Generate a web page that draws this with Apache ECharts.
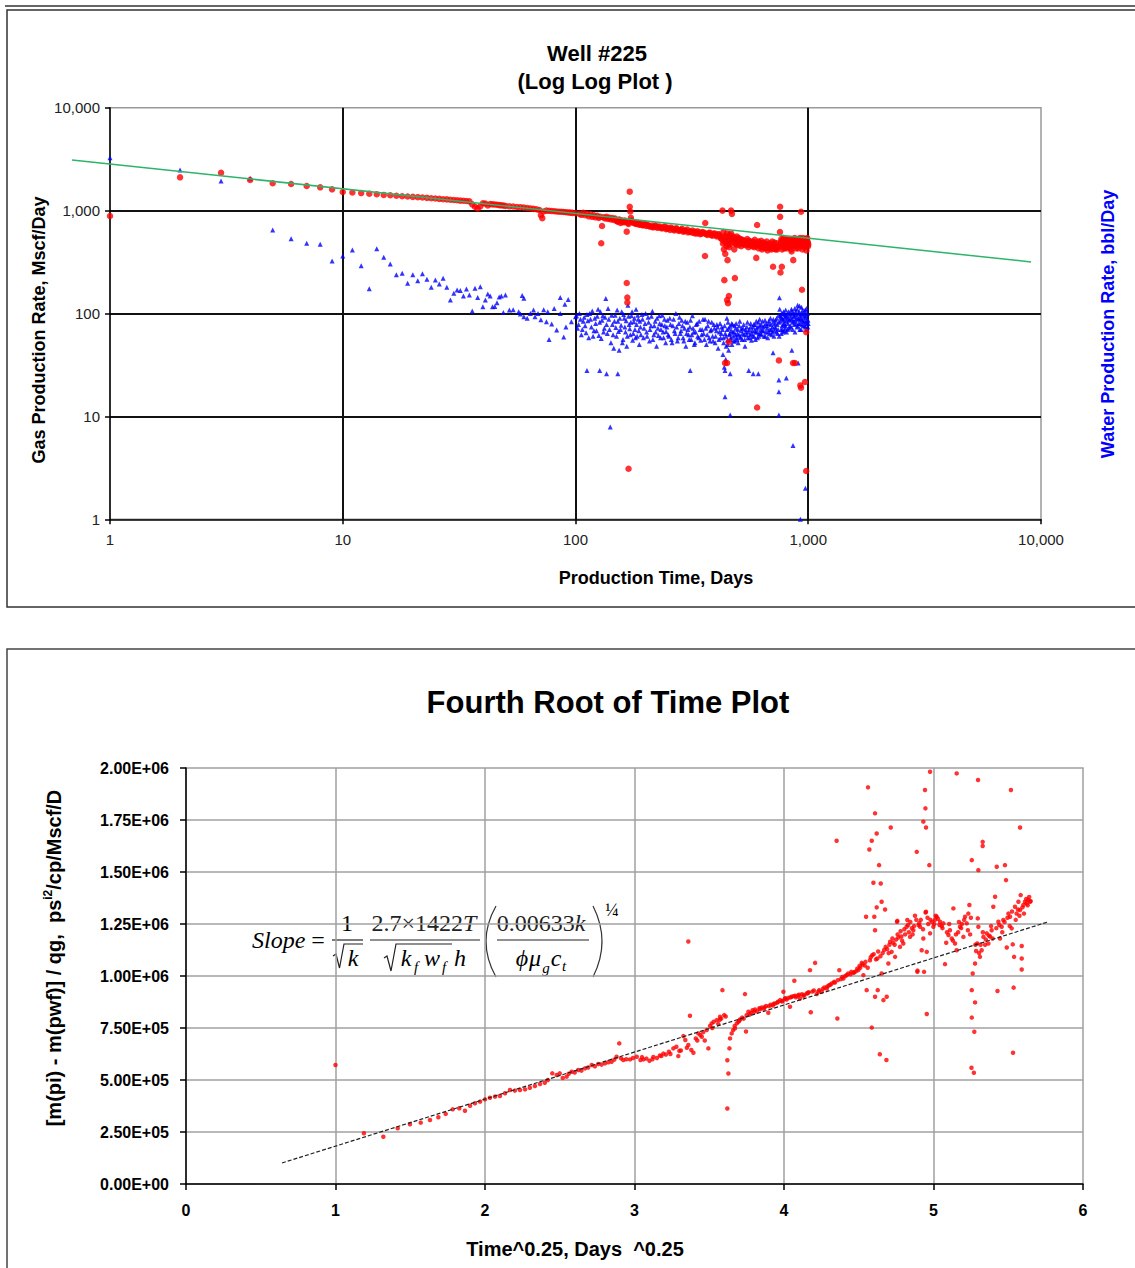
<!DOCTYPE html>
<html>
<head>
<meta charset="utf-8">
<title>Well #225</title>
<script src="https://cdn.jsdelivr.net/npm/echarts@6/dist/echarts.min.js"></script>
<style>
  html, body { margin: 0; padding: 0; background: #fff; }
  #main { width: 1135px; height: 1268px; }
</style>
</head>
<body>
<div id="main"></div>
<script>
// ---- Well #225 log-log data: [day, rate] ----
const gasEarly = [[1,887],[2,2105],[3,2335],[4,1983],[5,1842],[6,1814],[7,1735],[8,1683],[9,1610],[10,1517],[11,1500],[12,1480],[13,1460],[14,1440],[15,1420],[16,1410],[17,1395],[18,1380],[19,1370],[20,1360],[21,1350],[22,1340],[23,1330],[24,1320],[25,1310],[26,1300],[27,1290],[28,1285],[29,1275],[30,1268],[31,1260],[32,1250],[33,1245],[34,1240],[35,1230],[36,1150],[37,1090],[38,1050],[39,1100],[40,1180],[41,1170],[42,1120],[43,1160],[44,1150],[45,1145],[46,1140],[47,1130],[48,1125],[49,1120],[50,1110],[52,1100],[54,1095],[56,1085],[58,1080],[60,1070],[62,1060],[64,1050],[66,1040],[68,1030],[70,1010],[71,900],[72,845],[73,980],[75,1000],[77,995],[79,990],[81,985],[83,980],[85,975],[87,975],[89,970],[91,965],[93,960],[95,955],[97,950],[100,942]]
const gasLate = [[104,930],[106,910],[108,950],[110,900],[112,930],[114,880],[116,920],[118,870],[120,900],[122,860],[124,890],[126,850],[128,870],[132,860],[134,840],[136,870],[138,830],[140,850],[142,820],[144,845],[146,810],[148,835],[150,800],[152,780],[154,820],[156,760],[158,800],[160,790],[162,770],[164,780],[168,760],[172,980],[173,850],[174,800],[176,780],[178,760],[180,770],[183,740],[186,760],[189,730],[192,745],[195,720],[198,735],[201,710],[205,725],[209,700],[213,715],[217,690],[221,705],[225,680],[230,700],[235,670],[240,690],[245,660],[250,680],[255,650],[260,670],[266,640],[272,660],[278,635],[284,650],[290,625],[297,640],[304,615],[311,630],[318,610],[325,625],[332,600],[340,615],[348,595],[356,610],[365,590],[374,605],[383,580],[392,595],[401,575],[410,590],[418,560],[425,530],[430,480],[432,620],[434,420],[438,560],[440,380],[444,500],[448,600],[450,330],[452,470],[455,550],[458,440],[460,580],[463,520],[468,540],[470,930],[472,500],[478,560],[481,420],[487,520],[490,470],[494,560],[498,500],[502,540],[507,490],[512,530],[517,480],[522,520],[527,470],[532,510],[538,460],[544,500],[550,470],[556,510],[562,460],[568,490],[574,450],[580,500],[586,440],[592,480],[606,460],[612,430],[618,490],[624,450],[630,440],[636,480],[642,440],[648,470],[654,430],[660,460],[666,440],[672,470],[680,430],[688,450],[696,420],[712,460],[720,430],[728,440],[736,420],[744,450],[756,620],[762,480],[766,530],[770,450],[775,510],[780,470],[785,540],[790,460],[795,500],[800,440],[805,520],[810,470],[815,500],[820,450],[826,530],[832,460],[838,500],[844,420],[850,520],[856,470],[862,330],[868,490],[874,540],[880,450],[886,500],[892,470],[898,530],[904,460],[910,510],[916,480],[922,540],[928,470],[934,520],[946,490],[950,540],[955,480],[960,520],[965,460],[970,510],[975,450],[980,530],[985,480],[990,540],[995,490],[1000,470]]
const gasCloud = [[151,790],[155,810],[159,770],[163,800],[169,740],[175,770],[181,745],[187,735],[194,720],[200,740],[207,705],[214,690],[220,720],[227,695],[234,680],[242,705],[249,665],[257,685],[264,655],[271,675],[280,645],[287,665],[294,630],[302,655],[310,620],[318,640],[326,600],[334,630],[343,590],[351,620],[360,600],[369,580],[378,610],[387,570],[396,600],[405,560],[414,585],[421,540],[436,500],[442,560],[446,450],[454,510],[461,470],[466,600],[474,540],[485,480],[492,530],[500,460],[509,520],[515,450],[525,500],[535,480],[547,530],[553,440],[565,500],[577,470],[589,520],[595,450],[609,500],[615,470],[627,510],[633,420],[645,490],[651,450],[663,500],[669,410],[684,480],[692,440],[700,500],[708,430],[716,490],[724,420],[732,480],[740,440],[764,500],[772,420],[782,520],[788,430],[798,480],[808,430],[818,510],[828,440],[836,480],[848,400],[858,500],[866,450],[878,520],[888,430],[896,480],[906,430],[914,530],[926,450],[936,500],[944,420],[952,510],[962,440],[972,490],[982,410],[992,500],[998,450]]
const gasOutliers = [[129,482],[130,708],[166,624],[166,198],[167,143],[167,128],[169,3.1],[171,1527],[171,1091],[360,362],[361,758],[428,1000],[436,211],[448,135],[452,126],[456,148],[484,221],[466,1000],[439,33],[448,33],[456,53],[603,12.2],[598,347],[603,724],[706,285],[748,35],[757,1091],[757,870],[760,250],[770,285],[860,33],[877,33],[925,20],[931,19],[931,975],[940,170],[968,21.6],[980,66],[980,2.95]]

const waterEarly = [[1,3265],[2,2483],[3,1940],[4,2060],[5,648],[6,533],[7,481],[8,470],[9,324],[10,362],[11,414],[12,291],[13,174],[14,426],[15,352],[16,303],[17,238],[18,246],[19,197],[20,238],[21,208],[22,244],[23,215],[24,180],[25,212],[26,194],[27,220],[28,180],[29,135],[30,157],[31,169],[32,167],[33,148],[34,173],[35,151],[36,106],[37,176],[38,143],[39,182],[40,116],[41,135],[42,155],[43,148],[44,116],[45,117],[46,127],[47,145],[48,148],[49,102],[50,151],[52,108],[54,109],[57,104],[58,99],[59,150],[60,141],[60,93],[62,90],[64,100],[66,108],[67,93],[69,100],[71,87],[73,109],[75,83],[76,104],[77,56],[79,79],[81,112],[83,69],[86,143],[86,100],[89,59],[90,123],[91,74],[93,137],[96,83],[100,93]]
const waterLate = [[101,95],[103,78],[105,88],[107,70],[109,92],[111,65],[113,85],[115,100],[117,74],[119,60],[121,90],[123,68],[125,110],[127,82],[129,57],[131,95],[133,72],[135,140],[137,64],[139,88],[142,52],[144,78],[146,46],[148,96],[150,60],[152,84],[154,44],[156,70],[158,104],[160,56],[162,90],[164,66],[166,48],[168,120],[170,78],[172,62],[174,95],[176,55],[178,83],[180,70],[182,110],[184,60],[186,88],[188,50],[190,74],[193,98],[196,58],[199,80],[202,66],[205,92],[208,54],[211,76],[214,105],[217,62],[220,84],[223,48],[226,72],[229,95],[232,58],[235,78],[238,66],[241,88],[244,52],[247,74],[250,62],[254,90],[258,56],[262,76],[266,68],[270,100],[274,54],[278,80],[282,64],[286,86],[290,58],[294,72],[298,48],[302,82],[306,62],[310,74],[314,56],[318,95],[322,66],[326,52],[330,78],[335,60],[340,84],[345,55],[350,70],[355,64],[360,88],[365,50],[370,76],[375,58],[380,68],[385,82],[390,54],[395,72],[400,60],[405,78],[410,46],[415,66],[420,58],[425,74],[430,40],[433,52],[436,30],[440,64],[442,36],[444,48],[448,70],[450,55],[452,82],[455,44],[458,62],[461,75],[464,56],[467,68],[470,50],[473,78],[476,60],[480,66],[484,54],[488,72],[492,58],[496,64],[500,52],[505,76],[510,60],[515,68],[520,56],[525,72],[530,62],[535,48],[540,66],[545,74],[550,58],[555,28],[558,70],[562,62],[566,80],[570,55],[575,68],[580,74],[585,60],[590,78],[595,66],[600,72],[605,58],[610,82],[615,64],[620,76],[625,70],[630,62],[636,84],[642,68],[648,76],[654,60],[660,80],[666,72],[672,66],[678,85],[684,70],[690,78],[696,62],[702,74],[708,88],[714,68],[720,80],[726,72],[732,90],[738,64],[748,82],[752,142],[754,110],[760,95],[764,70],[768,100],[772,76],[776,88],[780,66],[784,104],[788,80],[792,92],[796,72],[800,108],[805,84],[810,96],[815,70],[825,88],[830,100],[835,76],[840,90],[850,106],[855,82],[865,94],[870,78],[875,112],[880,86],[885,98],[895,74],[900,120],[905,90],[910,80],[915,104],[920,70],[925,96],[930,88],[935,115],[940,78],[945,100],[950,84],[960,92],[965,76],[970,108],[975,82],[980,96],[985,70],[990,88],[995,74],[1000,80]]
const waterCloud = [[102,72],[104,100],[106,62],[108,84],[110,76],[112,98],[114,58],[116,88],[118,106],[120,68],[122,80],[124,94],[126,61],[128,104],[130,86],[132,66],[134,92],[136,78],[138,112],[140,70],[143,96],[145,62],[147,84],[149,73],[151,108],[153,67],[155,90],[157,77],[159,52],[161,98],[163,74],[165,85],[167,60],[169,94],[171,71],[173,82],[175,104],[177,64],[179,90],[181,58],[183,78],[185,96],[187,68],[189,84],[191,62],[194,88],[197,72],[200,100],[203,60],[206,82],[209,70],[212,94],[215,56],[218,76],[221,66],[224,90],[227,61],[230,80],[233,70],[236,96],[239,58],[242,76],[245,67],[248,86],[252,60],[256,78],[260,52],[264,88],[268,64],[272,74],[276,58],[280,92],[284,68],[288,76],[292,54],[296,84],[300,64],[304,70],[308,56],[312,86],[316,62],[320,72],[324,50],[328,66],[333,80],[338,58],[343,70],[348,62],[353,88],[358,56],[363,72],[368,62],[373,84],[378,54],[383,70],[388,60],[393,78],[398,52],[403,68],[408,74],[413,56],[418,80],[423,64],[428,70],[432,58],[437,76],[443,60],[447,90],[451,50],[456,72],[460,64],[465,58],[469,80],[474,66],[478,54],[482,76],[486,62],[490,80],[494,56],[498,70],[503,62],[508,84],[512,58],[517,72],[522,64],[528,78],[533,56],[538,70],[543,62],[548,82],[553,66],[560,58],[565,74],[572,64],[578,60],[583,78],[588,68],[593,56],[598,84],[603,66],[608,74],[613,60],[618,88],[623,64],[628,78],[634,68],[640,74],[646,60],[652,86],[658,66],[664,76],[670,58],[676,80],[682,64],[688,90],[694,70],[700,66],[706,82],[712,60],[718,74],[724,86],[730,66],[736,78],[742,70],[746,96],[750,60],[758,84],[762,92],[766,64],[770,90],[774,70],[778,100],[782,78],[786,86],[790,68],[794,98],[798,76],[802,94],[807,66],[812,90],[817,80],[822,104],[827,72],[832,86],[837,96],[842,74],[847,110],[852,88],[857,70],[862,100],[867,84],[872,94],[877,66],[882,104],[887,80],[892,90],[897,110],[902,76],[907,100],[912,88],[917,118],[922,80],[927,92],[932,70],[937,100],[942,86],[947,108],[952,76],[957,96],[962,84],[967,104],[972,74],[977,92],[982,112],[987,80],[992,100],[997,86]]
const waterOutliers = [[112,28],[127,28],[136,26],[141,7.9],[152,26],[311,28],[439,28],[439,15.5],[462,26],[462,10.3],[580,26],[610,26],[706,41.5],[748,22.6],[748,17.4],[748,10.3],[805,23.6],[850,44],[860,5.2],[905,33],[972,2.0],[925,1.0]]

const trendLogLog = [[0.687,3100],[9060,317]]

// ---- Fourth root of time data: [t^0.25, dm(p)/q] ----
const rootEarly = [[1.0,572000],[1.19,244000],[1.32,227000],[1.416,268000],[1.498,287000],[1.57,295000],[1.632,308000],[1.688,321000],[1.737,337000],[1.784,359000],[1.828,364000],[1.866,352000],[1.9,376000],[1.933,388000],[1.967,396000],[2.0,407000],[2.033,415000],[2.067,420000],[2.1,423000],[2.134,436000],[2.167,452000],[2.2,449000],[2.234,452000],[2.268,455000],[2.3,463000],[2.334,471000],[2.368,481000],[2.4,487000],[2.42,500000],[2.45,532000],[2.48,524000],[2.5,532000],[2.52,510000],[2.546,516000],[2.56,530000],[2.58,540000],[2.6,536000],[2.624,548000],[2.645,545000],[2.669,556000],[2.69,560000],[2.714,572000],[2.735,566000],[2.758,577000],[2.78,574000],[2.803,580000],[2.825,585000],[2.847,588000],[2.865,598000],[2.88,612000],[2.898,676000],[2.91,604000],[2.925,596000],[2.945,600000],[2.97,599000],[2.99,606000],[3.015,612000]]
const rootBand = [[3.04,596000],[3.06,599000],[3.08,603000],[3.1,592000],[3.126,611000],[3.15,606000],[3.17,618000],[3.193,627000],[3.21,622000],[3.23,636000],[3.26,652000],[3.28,660000],[3.293,615000],[3.31,642000],[3.327,711000],[3.34,692000],[3.36,668000],[3.371,809000],[3.38,644000],[3.394,631000],[3.41,700000],[3.427,724000],[3.44,716000],[3.45,708000],[3.47,690000],[3.483,740000],[3.494,652000],[3.505,760000],[3.516,772000],[3.53,780000],[3.55,788000],[3.56,770000],[3.572,804000],[3.58,795000],[3.60,812000],[3.635,652000],[3.639,700000],[3.65,724000],[3.66,740000],[3.672,748000],[3.684,772000],[3.695,780000],[3.706,791000],[3.72,800000],[3.746,733000],[3.75,812000],[3.762,828000],[3.78,822000],[3.79,835000],[3.806,839000],[3.82,830000],[3.835,845000],[3.851,849000],[3.865,842000],[3.88,856000],[3.895,823000],[3.91,862000],[3.925,858000],[3.94,868000],[3.955,872000],[3.974,884000],[3.985,878000],[4.005,890000],[4.018,887000],[4.03,895000],[4.04,852000],[4.05,900000],[4.063,903000],[4.08,898000],[4.095,906000],[4.107,892000],[4.12,912000],[4.135,908000],[4.152,916000],[4.165,922000],[4.19,925000],[4.219,913000],[4.235,932000],[4.252,924000],[4.27,945000],[4.286,940000],[4.3,955000],[4.319,964000],[4.335,972000],[4.37,1028000],[4.38,985000],[4.397,988000],[4.41,1000000],[4.43,1012000],[4.445,1008000],[4.464,1015000],[4.48,1022000],[4.497,1028000],[4.51,1040000],[4.52,1063000],[4.531,1004000],[4.54,1050000],[4.575,1076000],[4.59,1100000],[4.615,1080000],[4.624,1084000],[4.653,1012000],[4.66,1110000],[4.69,1130000],[4.698,1060000],[4.705,1150000],[4.72,1116000],[4.73,1160000],[4.743,1092000],[4.75,1175000],[4.756,1261000],[4.765,1185000],[4.776,1140000],[4.785,1190000],[4.798,1156000],[4.81,1200000],[4.82,1237000],[4.825,1269000],[4.835,1210000],[4.843,1188000],[4.855,1230000],[4.865,1220000],[4.876,1290000],[4.9,1245000],[4.91,1237000],[4.932,1180000],[4.947,1305000],[4.955,1116000],[4.965,1250000],[4.977,1205000],[4.99,1260000],[4.999,1237000],[5.01,1270000],[5.021,1285000],[5.03,1275000],[5.044,1261000],[5.055,1240000],[5.066,1253000],[5.085,1160000],[5.1,1197000],[5.11,1220000],[5.122,1180000],[5.144,1156000],[5.155,1124000],[5.165,1210000],[5.177,1237000],[5.19,1250000],[5.2,1188000],[5.211,1285000],[5.222,1253000],[5.233,1300000],[5.24,1341000],[5.245,1200000],[5.262,1012000],[5.278,1060000],[5.285,1120000],[5.293,1156000],[5.296,1277000],[5.3,1237000],[5.311,1092000],[5.322,1124000],[5.334,1188000],[5.345,1150000],[5.356,1205000],[5.367,1156000],[5.378,1190000],[5.389,1220000],[5.4,1333000],[5.412,1381000],[5.434,1261000],[5.445,1180000],[5.456,1237000],[5.467,1269000],[5.49,1137000],[5.501,1300000],[5.512,1285000],[5.523,1229000],[5.53,1152000],[5.539,1092000],[5.545,1333000],[5.556,1300000],[5.568,1357000],[5.579,1317000],[5.583,1389000],[5.59,1144000],[5.601,1341000],[5.612,1357000],[5.623,1349000],[5.634,1365000],[5.646,1357000]]
const rootCloud = [[3.05,610000],[3.12,600000],[3.18,615000],[3.24,625000],[3.3,640000],[3.35,655000],[3.42,690000],[3.46,730000],[3.52,750000],[3.57,790000],[3.61,805000],[3.67,760000],[3.7,785000],[3.73,795000],[3.77,815000],[3.8,828000],[3.84,840000],[3.87,850000],[3.9,855000],[3.93,866000],[3.96,876000],[3.99,880000],[4.01,893000],[4.045,897000],[4.075,905000],[4.1,910000],[4.13,905000],[4.16,918000],[4.2,930000],[4.23,924000],[4.26,938000],[4.29,950000],[4.31,958000],[4.34,968000],[4.36,980000],[4.39,995000],[4.42,1005000],[4.45,1020000],[4.47,1018000],[4.49,1035000],[4.505,1048000],[4.525,1055000],[4.545,1068000],[4.56,1040000],[4.58,1090000],[4.6,1105000],[4.63,1118000],[4.645,1095000],[4.67,1125000],[4.68,1140000],[4.7,1110000],[4.71,1165000],[4.725,1180000],[4.74,1150000],[4.76,1200000],[4.78,1215000],[4.79,1170000],[4.805,1225000],[4.83,1245000],[4.845,1260000],[4.86,1200000],[4.87,1240000],[4.885,1270000],[4.905,1255000],[4.915,1270000],[4.93,1225000],[4.96,1280000],[4.98,1270000],[5.005,1250000],[5.015,1290000],[5.04,1245000],[5.06,1230000],[5.09,1210000],[5.105,1250000],[5.13,1170000],[5.15,1200000],[5.17,1260000],[5.185,1230000],[5.205,1270000],[5.23,1220000],[5.25,1280000],[5.28,1150000],[5.305,1110000],[5.315,1150000],[5.33,1210000],[5.35,1175000],[5.37,1195000],[5.385,1240000],[5.395,1180000],[5.42,1230000],[5.44,1245000],[5.46,1210000],[5.475,1260000],[5.495,1280000],[5.51,1240000],[5.525,1310000],[5.55,1270000],[5.565,1320000],[5.575,1290000],[5.595,1330000],[5.605,1300000],[5.62,1370000],[5.63,1340000],[5.64,1380000],[5.65,1360000]]
const rootScatter = [[3.36,1166000],[3.588,932000],[3.621,595000],[3.628,531000],[3.621,363000],[3.739,913000],[3.996,924000],[4.069,977000],[4.174,1028000],[4.179,826000],[4.208,1063000],[4.352,1650000],[4.357,796000],[4.549,1285000],[4.553,932000],[4.562,1907000],[4.571,1608000],[4.587,1650000],[4.587,752000],[4.598,1448000],[4.604,1285000],[4.609,1782000],[4.609,1220000],[4.609,900000],[4.62,1685000],[4.62,1330000],[4.627,932000],[4.636,1533000],[4.641,624000],[4.647,1445000],[4.653,1357000],[4.665,884000],[4.676,1320000],[4.685,596000],[4.687,900000],[4.714,1714000],[4.758,1265000],[4.888,1597000],[4.892,1020000],[4.893,1026000],[4.921,1124000],[4.932,1742000],[4.937,1020000],[4.943,1894000],[4.946,1806000],[4.95,1714000],[4.95,1309000],[4.955,817000],[4.972,1533000],[4.977,1982000],[5.077,1057000],[5.133,1325000],[5.155,1974000],[5.254,559000],[5.256,1557000],[5.256,932000],[5.256,800000],[5.27,535000],[5.273,732000],[5.278,873000],[5.298,1942000],[5.3,1509000],[5.329,1645000],[5.329,1625000],[5.423,1525000],[5.428,928000],[5.478,1533000],[5.485,1461000],[5.518,1894000],[5.532,631000],[5.536,944000],[5.579,1714000],[5.59,1084000],[5.59,1031000]]
const trendRoot = [[0.642,101000],[5.766,1260000]]

const SANS = '"Liberation Sans", Arial, sans-serif'
const SERIF = '"Liberation Serif", "Times New Roman", serif'

const commas = v => String(Math.round(v)).replace(/\B(?=(\d{3})+(?!\d))/g, ',')
const sci = v => {
  if (v === 0) return '0.00E+00'
  const e = Math.floor(Math.log10(v) + 1e-9)
  return (v / Math.pow(10, e)).toFixed(2) + 'E+' + String(e).padStart(2, '0')
}

// small helpers for the graphic layer (titles, frames, slope formula)
const txt = (x, y, text, size, opts = {}) => ({
  type: 'text', x, y, rotation: opts.rotation || 0, silent: true,
  style: {
    text, fontSize: size, fontFamily: opts.family || SANS,
    fontWeight: opts.weight || 'normal', fontStyle: opts.style || 'normal',
    fill: opts.fill || '#000', align: opts.align || 'center', verticalAlign: 'middle',
    rich: opts.rich
  }
})
const seg = (x1, y1, x2, y2, color = '#222', w = 1.2) => ({
  type: 'line', silent: true, shape: { x1, y1, x2, y2 }, style: { stroke: color, lineWidth: w }
})
const frac = (x, y, t, size = 24) => txt(x, y, t, size, { family: SERIF })
const ital = (x, y, t, size = 24) => txt(x, y, t, size, { family: SERIF, style: 'italic' })

const graphics = [
  // frames
  { type: 'rect', silent: true, shape: { x: 7, y: 10, width: 1140, height: 597 }, style: { fill: 'none', stroke: '#333', lineWidth: 1.5 } },
  seg(5, 6, 1140, 6, '#333', 1.5),
  { type: 'rect', silent: true, shape: { x: 7, y: 649, width: 1140, height: 700 }, style: { fill: 'none', stroke: '#444', lineWidth: 1.5 } },
  // top chart texts
  txt(597, 53, 'Well #225', 22, { weight: 'bold' }),
  txt(595, 81, '(Log Log Plot )', 22, { weight: 'bold' }),
  txt(39, 330, 'Gas Production Rate, Mscf/Day', 18, { weight: 'bold', rotation: Math.PI / 2 }),
  txt(1108, 324, 'Water Production Rate, bbl/Day', 18, { weight: 'bold', rotation: Math.PI / 2, fill: '#0000ff' }),
  txt(656, 578, 'Production Time, Days', 18, { weight: 'bold' }),
  // bottom chart texts
  txt(608, 702, 'Fourth Root of Time Plot', 31, { weight: 'bold' }),
  txt(575, 1249, 'Time^0.25, Days  ^0.25', 20, { weight: 'bold' }),
  {
    type: 'text', x: 54, y: 958, rotation: Math.PI / 2, silent: true,
    style: {
      text: '{a|[m(pi) - m(pwf)] / qg,  ps}{s|i2}{a|/cp/Mscf/D}',
      align: 'center', verticalAlign: 'middle',
      rich: {
        a: { fontSize: 20, fontWeight: 'bold', fontFamily: SANS, fill: '#000', lineHeight: 24 },
        s: { fontSize: 12, fontWeight: 'bold', fontFamily: SANS, fill: '#000', verticalAlign: 'top', lineHeight: 24 }
      }
    }
  },
  // slope formula
  txt(252, 940, 'Slope', 24, { family: SERIF, style: 'italic', align: 'left' }),
  frac(318, 940, '='),
  frac(347, 923, '1'),
  seg(332, 940, 363, 940),
  { type: 'polyline', silent: true, shape: { points: [[333, 956], [336, 954], [339.5, 968], [344, 944], [363, 944]] }, style: { stroke: '#222', lineWidth: 1.2, fill: 'none' } },
  ital(353, 958, 'k'),
  txt(424, 923, '{n|2.7×1422}{i|T}', 24, { family: SERIF, rich: { n: { fontSize: 24, fontFamily: SERIF, fill: '#222' }, i: { fontSize: 24, fontFamily: SERIF, fontStyle: 'italic', fill: '#222' } } }),
  seg(370, 940, 480, 940),
  { type: 'polyline', silent: true, shape: { points: [[384, 958], [387, 956], [391, 971], [396, 944], [452, 944]] }, style: { stroke: '#222', lineWidth: 1.2, fill: 'none' } },
  ital(406, 958, 'k'),
  ital(416, 967, 'f', 15),
  ital(432, 958, 'w'),
  ital(444, 967, 'f', 15),
  ital(460, 958, 'h'),
  { type: 'bezierCurve', silent: true, shape: { x1: 496, y1: 906, x2: 496, y2: 977, cpx1: 476, cpy1: 941.5 }, style: { stroke: '#333', lineWidth: 1.2, fill: 'none' } },
  txt(541, 923, '{n|0.00633}{i|k}', 24, { family: SERIF, rich: { n: { fontSize: 24, fontFamily: SERIF, fill: '#222' }, i: { fontSize: 24, fontFamily: SERIF, fontStyle: 'italic', fill: '#222' } } }),
  seg(497, 940, 589, 940),
  ital(522, 958, 'ϕ'),
  ital(535, 958, 'μ'),
  ital(546, 968, 'g', 15),
  ital(556, 958, 'c'),
  ital(564, 966, 't', 15),
  { type: 'bezierCurve', silent: true, shape: { x1: 593, y1: 906, x2: 593, y2: 977, cpx1: 611, cpy1: 941.5 }, style: { stroke: '#333', lineWidth: 1.2, fill: 'none' } },
  frac(612, 910, '¼', 18)
]

let myChart = echarts.init(document.getElementById('main'), null, { renderer: 'svg' })
let option

option = {
  animation: false,
  backgroundColor: '#fff',
  grid: [
    { left: 110, top: 107.7, width: 931, height: 411.6, show: true, borderColor: '#999', borderWidth: 1.5 },
    { left: 186, top: 768, width: 897, height: 416, show: true, borderColor: '#a0a0a0', borderWidth: 1.5 },
    // same decades as grid 0, widened one log-unit-fraction to the left so the fit line can start before day 1
    { left: 39.93, top: 107.7, width: 1001.07, height: 411.6, show: false }
  ],
  xAxis: [
    {
      gridIndex: 0, type: 'log', logBase: 10, min: 1, max: 10000, splitNumber: 4,
      axisLine: { lineStyle: { color: '#000', width: 1.5 } },
      axisTick: { length: 5, lineStyle: { color: '#000', width: 1.5 } },
      axisLabel: { margin: 13, color: '#222', fontSize: 15, fontFamily: SANS, formatter: commas },
      splitLine: { show: true, showMinLine: false, showMaxLine: false, lineStyle: { color: '#111', width: 2 } }
    },
    {
      gridIndex: 1, type: 'value', min: 0, max: 6, interval: 1,
      axisLine: { lineStyle: { color: '#000', width: 1.5 } },
      axisTick: { length: 6, lineStyle: { color: '#000', width: 1.5 } },
      axisLabel: { margin: 18, color: '#000', fontSize: 16, fontWeight: 'bold', fontFamily: SANS },
      splitLine: { show: true, showMinLine: false, showMaxLine: false, lineStyle: { color: '#a0a0a0', width: 1.5 } }
    },
    { gridIndex: 2, type: 'log', logBase: 10, min: 0.5, max: 10000, show: false }
  ],
  yAxis: [
    {
      gridIndex: 0, type: 'log', logBase: 10, min: 1, max: 10000, splitNumber: 4,
      axisLine: { lineStyle: { color: '#000', width: 1.5 } },
      axisTick: { length: 5, lineStyle: { color: '#000', width: 1.5 } },
      axisLabel: { margin: 10, color: '#222', fontSize: 15, fontFamily: SANS, formatter: commas },
      splitLine: { show: true, showMinLine: false, showMaxLine: false, lineStyle: { color: '#111', width: 2 } }
    },
    {
      gridIndex: 1, type: 'value', min: 0, max: 2000000, interval: 250000,
      axisLine: { lineStyle: { color: '#000', width: 1.5 } },
      axisTick: { length: 6, lineStyle: { color: '#000', width: 1.5 } },
      axisLabel: { margin: 17, color: '#000', fontSize: 16, fontWeight: 'bold', fontFamily: SANS, formatter: sci },
      splitLine: { show: true, showMinLine: false, showMaxLine: false, lineStyle: { color: '#a0a0a0', width: 1.5 } }
    },
    { gridIndex: 2, type: 'log', logBase: 10, min: 1, max: 10000, show: false }
  ],
  series: [
    {
      name: 'Water', type: 'scatter', xAxisIndex: 0, yAxisIndex: 0, clip: false,
      symbol: 'triangle', symbolSize: 5, itemStyle: { color: '#0000ff' },
      data: waterEarly.concat(waterLate, waterCloud, waterOutliers)
    },
    {
      name: 'Gas', type: 'scatter', xAxisIndex: 0, yAxisIndex: 0, clip: false,
      symbol: 'circle', symbolSize: 6.5, itemStyle: { color: '#ff0000' },
      data: gasEarly.concat(gasLate, gasCloud, gasOutliers)
    },
    {
      name: 'Gas trend', type: 'line', xAxisIndex: 2, yAxisIndex: 2, clip: false,
      showSymbol: false, symbol: 'none', lineStyle: { color: '#2eb36b', width: 1.5 },
      data: trendLogLog
    },
    {
      name: 'dm(p)/q', type: 'scatter', xAxisIndex: 1, yAxisIndex: 1, clip: false,
      symbol: 'circle', symbolSize: 4.5, itemStyle: { color: '#ff0000' },
      data: rootEarly.concat(rootBand, rootCloud, rootScatter)
    },
    {
      name: 'Root trend', type: 'line', xAxisIndex: 1, yAxisIndex: 1, clip: false,
      showSymbol: false, symbol: 'none', lineStyle: { color: '#222', width: 1.2, type: [4, 2] },
      data: trendRoot
    }
  ],
  graphic: graphics
}

option && myChart.setOption(option)
</script>
</body>
</html>
